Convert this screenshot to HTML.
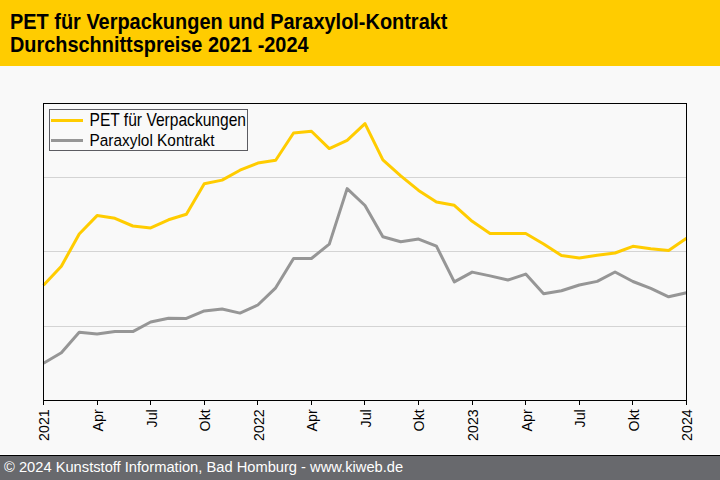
<!DOCTYPE html>
<html><head><meta charset="utf-8"><style>
html,body{margin:0;padding:0;}
body{width:720px;height:480px;position:relative;overflow:hidden;background:#f9f9f9;font-family:"Liberation Sans",sans-serif;}
#hdr{position:absolute;left:0;top:0;width:720px;height:66px;background:#ffcc00;}
#hdr div{position:absolute;left:10px;font-weight:bold;font-size:20px;color:#000;white-space:nowrap;line-height:23px;}
#ftr{position:absolute;left:0;top:454px;width:720px;height:26px;background:#68696d;}
#ftr .w{position:absolute;left:0;top:0;width:720px;height:1px;background:#fff;}
#ftr .k{position:absolute;left:0;top:1px;width:720px;height:1px;background:#000;}
#ftr span{position:absolute;left:4px;top:5px;font-size:14.7px;color:#fff;white-space:nowrap;line-height:17px;}
svg{position:absolute;left:0;top:0;}
</style></head><body>
<div id="hdr"></div>
<svg width="720" height="480" viewBox="0 0 720 480">
<g font-family="Liberation Sans" font-weight="bold" font-size="20" fill="#000"><text transform="translate(10,29) scale(0.997,1.07)">PET für Verpackungen und Paraxylol-Kontrakt</text><text transform="translate(10,52) scale(0.995,1.07)">Durchschnittspreise 2021 -2024</text></g>
<g stroke="#d4d4d4" stroke-width="1">
<line x1="44" y1="177.5" x2="686" y2="177.5"/>
<line x1="44" y1="251.5" x2="686" y2="251.5"/>
<line x1="44" y1="326.5" x2="686" y2="326.5"/>
</g>
<polyline points="43.50,363.20 61.36,352.80 79.22,332.20 97.08,334.10 114.94,331.60 132.81,331.60 150.67,322.00 168.53,318.20 186.39,318.40 204.25,310.90 222.11,309.00 239.97,313.10 257.83,305.00 275.69,287.80 293.56,258.50 311.42,258.50 329.28,244.10 347.14,188.60 365.00,205.50 382.86,236.80 400.72,241.80 418.58,239.10 436.44,246.20 454.31,281.90 472.17,272.10 490.03,275.90 507.89,280.00 525.75,274.10 543.61,293.70 561.47,290.80 579.33,285.00 597.19,281.40 615.06,272.00 632.92,281.50 650.78,288.40 668.64,296.80 686.50,292.70" fill="none" stroke="#969696" stroke-width="3" stroke-linejoin="round"/>
<polyline points="43.50,285.20 61.36,266.20 79.22,234.00 97.08,215.60 114.94,218.30 132.81,226.00 150.67,227.90 168.53,219.80 186.39,214.20 204.25,183.70 222.11,180.10 239.97,170.20 257.83,163.10 275.69,160.30 293.56,133.00 311.42,131.20 329.28,148.60 347.14,140.40 365.00,123.60 382.86,159.80 400.72,175.80 418.58,190.40 436.44,202.00 454.31,205.30 472.17,221.30 490.03,233.50 507.89,233.50 525.75,233.50 543.61,244.00 561.47,255.50 579.33,258.00 597.19,255.20 615.06,253.00 632.92,246.30 650.78,248.70 668.64,250.60 686.50,238.20" fill="none" stroke="#ffcc00" stroke-width="3" stroke-linejoin="round"/>
<rect x="43.5" y="103.5" width="643" height="297" fill="none" stroke="#000" stroke-width="1"/>
<g stroke="#000" stroke-width="1"><line x1="43.5" y1="400" x2="43.5" y2="405"/><line x1="97.5" y1="400" x2="97.5" y2="405"/><line x1="150.5" y1="400" x2="150.5" y2="405"/><line x1="204.5" y1="400" x2="204.5" y2="405"/><line x1="257.5" y1="400" x2="257.5" y2="405"/><line x1="311.5" y1="400" x2="311.5" y2="405"/><line x1="364.5" y1="400" x2="364.5" y2="405"/><line x1="418.5" y1="400" x2="418.5" y2="405"/><line x1="472.5" y1="400" x2="472.5" y2="405"/><line x1="525.5" y1="400" x2="525.5" y2="405"/><line x1="579.5" y1="400" x2="579.5" y2="405"/><line x1="632.5" y1="400" x2="632.5" y2="405"/><line x1="686.5" y1="400" x2="686.5" y2="405"/></g>
<g font-family="Liberation Sans" font-size="14.5" fill="#000"><text transform="translate(49.40,409.3) rotate(-90) scale(0.98,1.07)" text-anchor="end">2021</text><text transform="translate(102.98,409.3) rotate(-90) scale(0.98,1.07)" text-anchor="end">Apr</text><text transform="translate(156.57,409.3) rotate(-90) scale(0.98,1.07)" text-anchor="end">Jul</text><text transform="translate(210.15,409.3) rotate(-90) scale(0.98,1.07)" text-anchor="end">Okt</text><text transform="translate(263.73,409.3) rotate(-90) scale(0.98,1.07)" text-anchor="end">2022</text><text transform="translate(317.32,409.3) rotate(-90) scale(0.98,1.07)" text-anchor="end">Apr</text><text transform="translate(370.90,409.3) rotate(-90) scale(0.98,1.07)" text-anchor="end">Jul</text><text transform="translate(424.48,409.3) rotate(-90) scale(0.98,1.07)" text-anchor="end">Okt</text><text transform="translate(478.07,409.3) rotate(-90) scale(0.98,1.07)" text-anchor="end">2023</text><text transform="translate(531.65,409.3) rotate(-90) scale(0.98,1.07)" text-anchor="end">Apr</text><text transform="translate(585.23,409.3) rotate(-90) scale(0.98,1.07)" text-anchor="end">Jul</text><text transform="translate(638.82,409.3) rotate(-90) scale(0.98,1.07)" text-anchor="end">Okt</text><text transform="translate(692.40,409.3) rotate(-90) scale(0.98,1.07)" text-anchor="end">2024</text></g>
<rect x="49.5" y="109.5" width="198" height="41" fill="#f9f9f9" stroke="#5c5c62" stroke-width="1"/>
<line x1="51" y1="120.5" x2="83" y2="120.5" stroke="#ffcc00" stroke-width="3"/>
<line x1="51" y1="140.5" x2="83" y2="140.5" stroke="#969696" stroke-width="3"/>
<g font-family="Liberation Sans" fill="#000">
<text transform="translate(89.5,126) scale(1,1.12)" font-size="15.6">PET für Verpackungen</text>
<text transform="translate(89.5,146) scale(1,1.12)" font-size="15.4">Paraxylol Kontrakt</text>
</g>
</svg>
<div id="ftr"><div class="w"></div><div class="k"></div><span>© 2024 Kunststoff Information, Bad Homburg - www.kiweb.de</span></div>
</body></html>
